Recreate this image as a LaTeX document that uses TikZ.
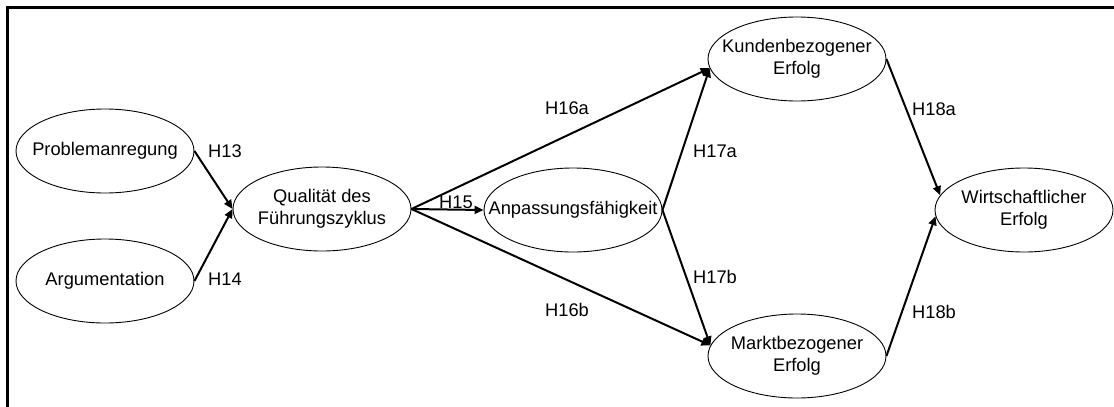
\documentclass[tikz,border=0pt]{standalone}
\usepackage{fontspec}
\setmainfont{Liberation Sans}
\usetikzlibrary{shapes.geometric,arrows.meta}
\begin{document}
\begin{tikzpicture}[x=1pt,y=-1pt,
  ell/.style={ellipse, draw, line width=0.9pt, minimum width=178pt, minimum height=84pt, inner sep=0pt},
  txt/.style={font=\fontsize{18.3}{22}\selectfont, align=center, inner sep=0pt},
  hyp/.style={font=\fontsize{18.3}{22}\selectfont, inner sep=0pt, anchor=base},
  arr/.style={line width=2pt, -{Triangle[length=9pt,width=8pt]}},
  frame/.style={line width=2.2pt}
]
\useasboundingbox (0,0) rectangle (1114,407);
\draw[frame] (7.5,407) -- (7.5,7.5) -- (1114,7.5);

\node[ell, label={[txt]center:Problemanregung}] (p) at (105,151) {};
\node[ell, label={[txt]center:Argumentation}] (g) at (105,281) {};
\node[ell, label={[txt]center:{Qualität des\\Führungszyklus}}] (q) at (322,209) {};
\node[ell, label={[txt]center:Anpassungsfähigkeit}] (a) at (573,210) {};
\node[ell, label={[txt]center:{Kundenbezogener\\Erfolg}}] (k) at (797,59) {};
\node[ell, label={[txt]center:{Marktbezogener\\Erfolg}}] (m) at (797,356) {};
\node[ell, label={[txt]center:{Wirtschaftlicher\\Erfolg}}] (w) at (1024,210) {};

\draw[arr] (p.east) -- (q.west);
\draw[arr] (g.east) -- (q.west);
\draw[arr] (q.east) -- (a.west);
\draw[arr] (q.east) -- (k.186);
\draw[arr] (q.east) -- (m.173);
\draw[arr] (a.east) -- (k.186);
\draw[arr] (a.east) -- (m.173);
\draw[arr] (k.east) -- (w.170);
\draw[arr] (m.east) -- (w.184);

\node[hyp] (h13) at (225,157.5) {H13};
\node[hyp] (h14) at (225,285.5) {H14};
\node[hyp] (h15) at (456,208.5) {H15};
\node[hyp] (h16a) at (567,114.5) {H16a};
\node[hyp] (h16b) at (567,316.5) {H16b};
\node[hyp] (h17a) at (715,157.5) {H17a};
\node[hyp] (h17b) at (715,283) {H17b};
\node[hyp] (h18a) at (934,115) {H18a};
\node[hyp] (h18b) at (934,318.5) {H18b};
\end{tikzpicture}
\end{document}
